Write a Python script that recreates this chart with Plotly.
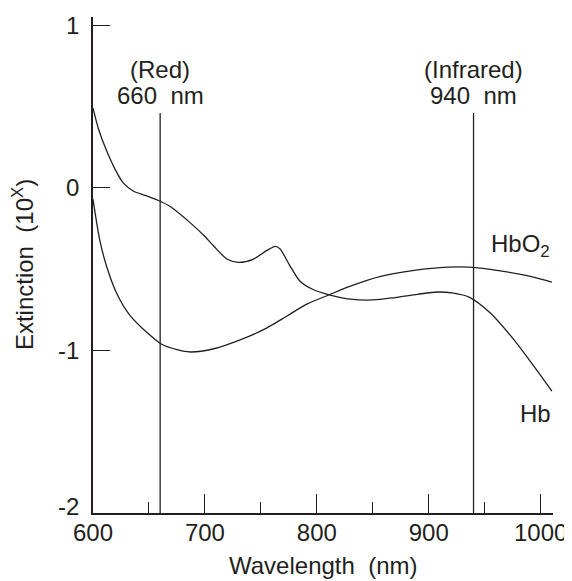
import plotly.graph_objects as go

# Hb (deoxyhemoglobin) extinction curve
hb_wl = [600, 605, 612, 620, 627, 636, 648, 661, 669, 687, 700, 708, 720, 730, 743, 755, 763, 767, 776, 785, 797, 811, 830, 850, 870, 890, 908, 922, 936, 955, 976, 994, 1010]
hb_ext = [0.49, 0.36, 0.23, 0.11, 0.03, -0.02, -0.05, -0.086, -0.115, -0.216, -0.30, -0.36, -0.44, -0.459, -0.44, -0.387, -0.36, -0.375, -0.48, -0.575, -0.627, -0.658, -0.685, -0.69, -0.675, -0.655, -0.641, -0.648, -0.672, -0.77, -0.934, -1.098, -1.25]

# HbO2 (oxyhemoglobin) extinction curve
hbo2_wl = [600, 606, 612, 621, 633, 648, 661, 675, 687, 708, 732, 755, 773, 791, 811, 830, 857, 887, 917, 936, 961, 991, 1010]
hbo2_ext = [-0.07, -0.32, -0.48, -0.647, -0.785, -0.889, -0.961, -0.996, -1.01, -0.99, -0.934, -0.863, -0.79, -0.716, -0.658, -0.605, -0.545, -0.508, -0.488, -0.488, -0.508, -0.545, -0.58]

# Marker wavelengths
marker_wl = [660, 940]
marker_names = ["(Red)", "(Infrared)"]
marker_top = 0.46

x_ticks = [600, 700, 800, 900, 1000]
y_ticks = [-2, -1, 0, 1]
y_tick_labels = ["-2", "-1", "0", "1"]

INK = "#231f20"
FONT = "Liberation Sans, Arial, Helvetica, sans-serif"
FS = 24

fig = go.Figure()
fig.add_trace(go.Scatter(x=hb_wl, y=hb_ext, mode="lines", line=dict(color=INK, width=1.3, shape="spline", smoothing=0.8), name="Hb", showlegend=False))
fig.add_trace(go.Scatter(x=hbo2_wl, y=hbo2_ext, mode="lines", line=dict(color=INK, width=1.3, shape="spline", smoothing=0.8), name="HbO2", showlegend=False))

for wl, nm in zip(marker_wl, marker_names):
    fig.add_trace(go.Scatter(x=[wl, wl], y=[-2, marker_top], mode="lines", line=dict(color=INK, width=1.3), showlegend=False, hoverinfo="skip"))
    fig.add_annotation(x=wl, y=0.725, xref="x", yref="y", text=nm, showarrow=False, yanchor="middle",
                       font=dict(family=FONT, size=FS, color=INK))
    fig.add_annotation(x=wl, y=0.565, xref="x", yref="y", text=f"{wl}  nm", showarrow=False, yanchor="middle",
                       font=dict(family=FONT, size=FS, color=INK))

# y tick labels (the lowest one nudged up, as in the original, to clear the x labels)
for v, lab in zip(y_ticks, y_tick_labels):
    fig.add_annotation(x=0, y=v, xref="paper", yref="y", text=lab, showarrow=False, xanchor="right", yanchor="middle",
                       xshift=-12, yshift=7 if v == min(y_ticks) else 0, font=dict(family=FONT, size=FS, color=INK))

fig.add_annotation(x=1010, y=-0.355, xref="x", yref="y", text="HbO<sub>2</sub>", showarrow=False, xanchor="right",
                   font=dict(family=FONT, size=FS, color=INK))
fig.add_annotation(x=1011, y=-1.39, xref="x", yref="y", text="Hb", showarrow=False, xanchor="right",
                   font=dict(family=FONT, size=FS, color=INK))

# axis titles
fig.add_annotation(x=0.5, y=-0.105, xref="paper", yref="paper", text="Wavelength  (nm)", showarrow=False,
                   xanchor="center", yanchor="middle", font=dict(family=FONT, size=FS, color=INK))
fig.add_annotation(x=-0.152, y=0.5, xref="paper", yref="paper", text="Extinction  (10<sup>X</sup>)", showarrow=False,
                   xanchor="center", yanchor="middle", textangle=-90, font=dict(family=FONT, size=FS, color=INK))

# page body has an 8px margin, so the figure is drawn 8px smaller and margins shifted
fig.update_layout(
    width=564, height=573,
    margin=dict(l=85, r=19, t=9, b=68),
    paper_bgcolor="white", plot_bgcolor="white",
    font=dict(family=FONT, size=FS, color=INK),
)
fig.update_xaxes(range=[600, 1011], tickvals=x_ticks, ticks="inside", ticklen=19, tickwidth=1.3, tickcolor=INK,
                 showline=True, linecolor=INK, linewidth=1.5, showgrid=False, zeroline=False, automargin=False,
                 minor=dict(dtick=50, tick0=600, ticks="inside", ticklen=11, tickwidth=1.3, tickcolor=INK, showgrid=False),
                 tickfont=dict(family=FONT, size=FS, color=INK), ticklabelstandoff=-3)
fig.update_yaxes(range=[-2, 1.05], tickvals=y_ticks, ticks="inside", ticklen=17, tickwidth=1.3, tickcolor=INK,
                 showline=True, linecolor=INK, linewidth=1.5, showgrid=False, zeroline=False, automargin=False,
                 showticklabels=False)

fig.write_html("out.html")
